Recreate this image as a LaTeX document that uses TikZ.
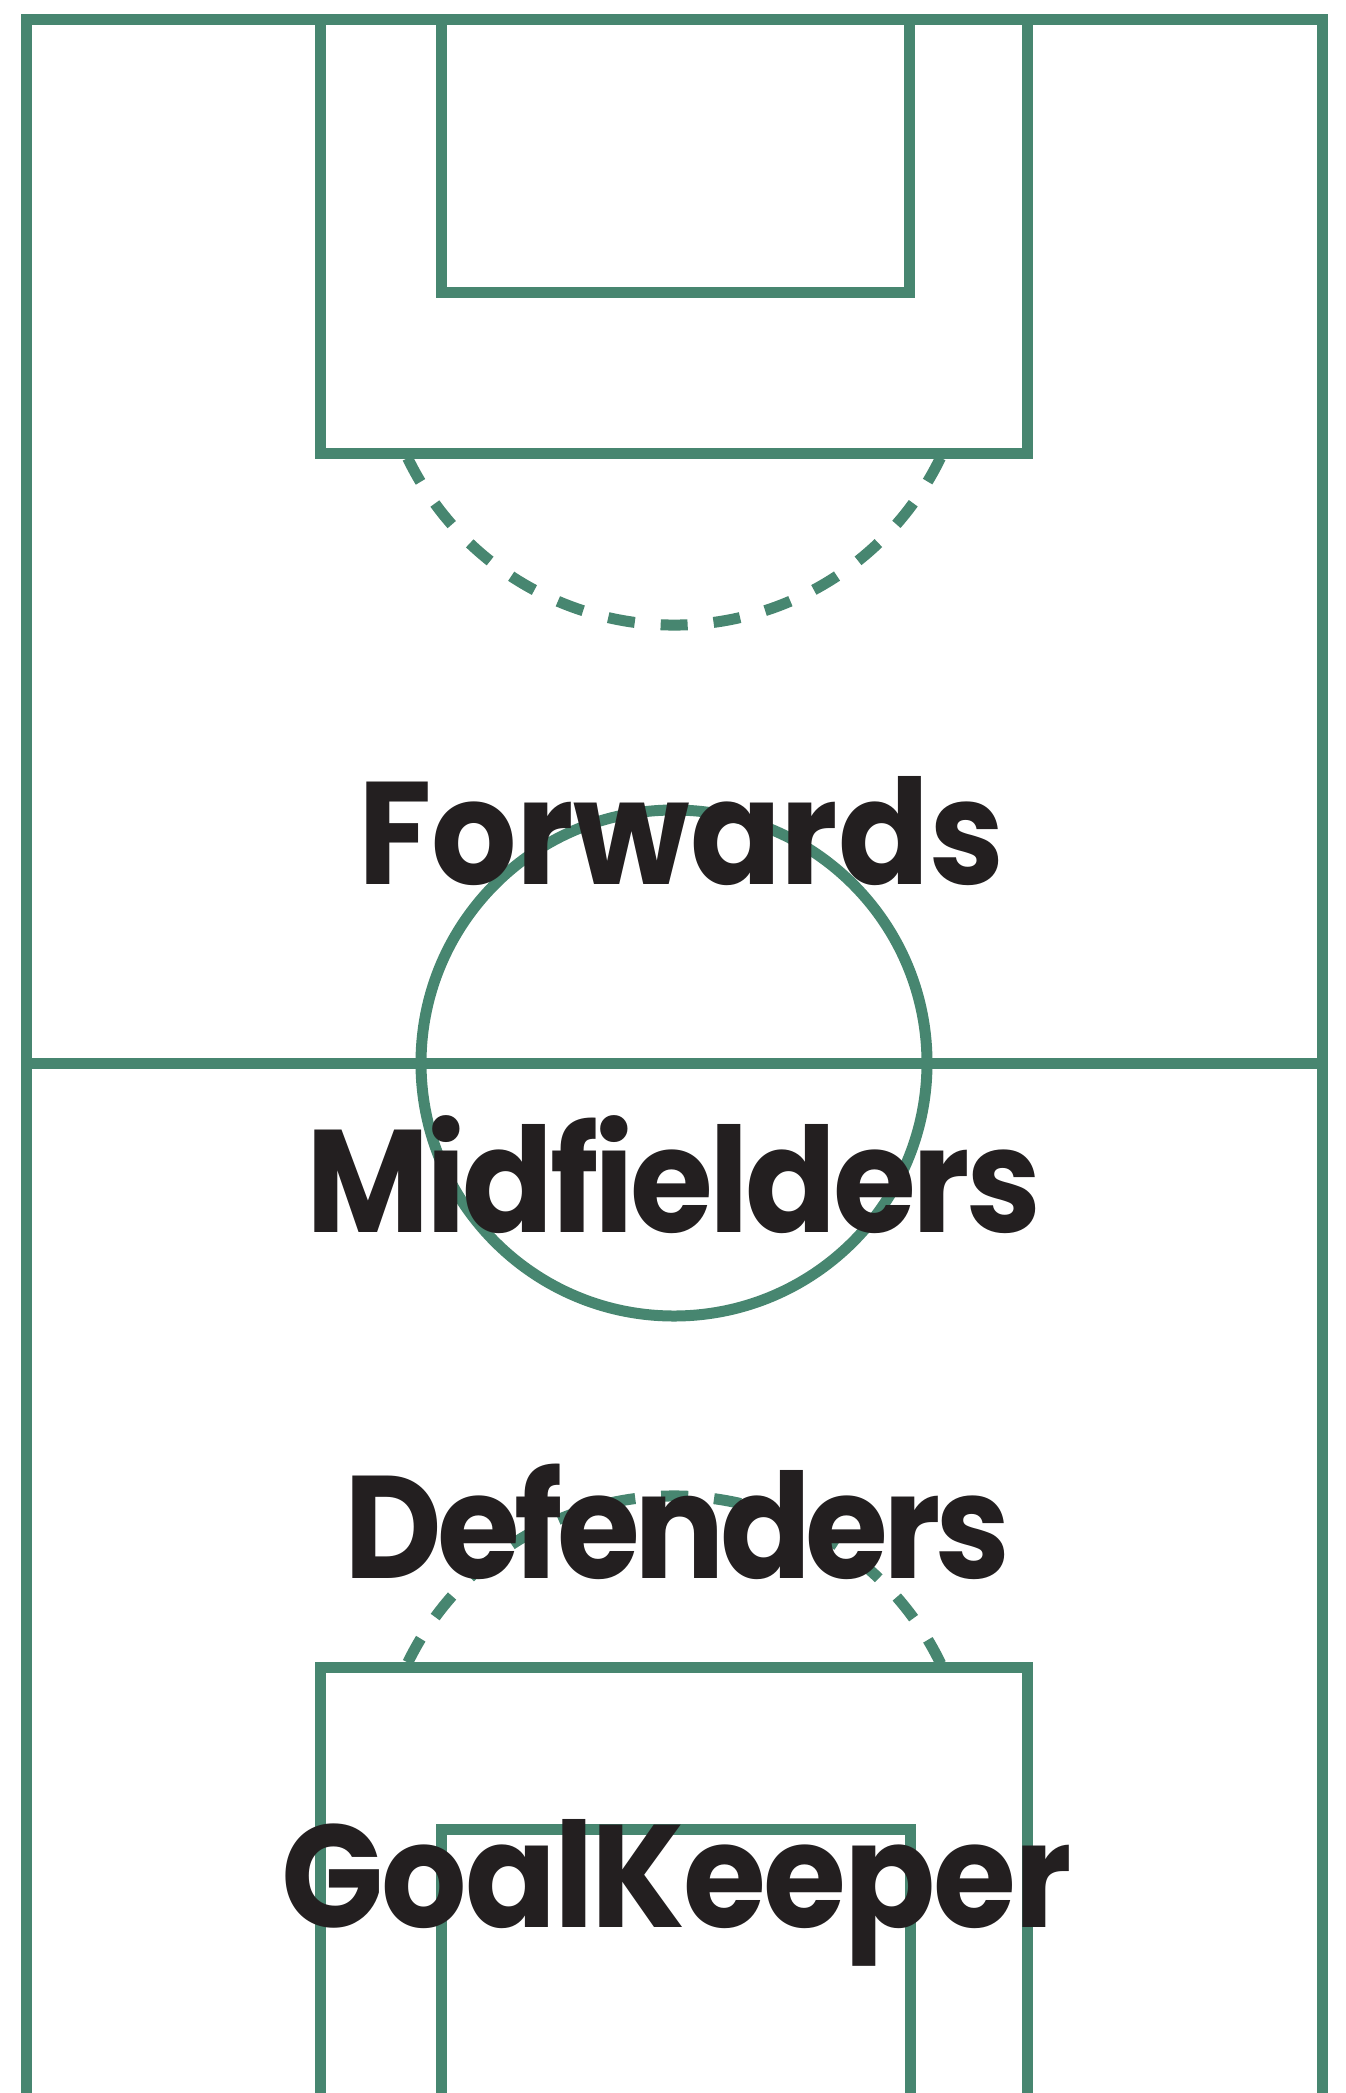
\documentclass[tikz,border=0pt]{standalone}
\usepackage{fontspec}
\usepackage{graphicx}
\newfontfamily\pop{Poppins}
\definecolor{pitch}{HTML}{478670}
\definecolor{ink}{HTML}{231F20}
\newcommand{\squeeze}[2]{\scalebox{0.92}[1]{\addfontfeatures{LetterSpace=#1}#2}}
\begin{document}
\begin{tikzpicture}[x=1pt,y=-1pt,
  pitchline/.style={draw=pitch,line width=11pt},
  arcdash/.style={pitchline,dash pattern=on 27pt off 26pt,dash phase=47.5pt},
  role/.style={text=ink,font=\pop\bfseries\fontsize{146}{146}\selectfont,anchor=base,inner sep=0pt}]
\useasboundingbox (0,0) rectangle (1345,2093);
\fill[white] (0,0) rectangle (1345,2093);
\clip (0,0) rectangle (1345,2093);
% pitch outline
\draw[pitchline] (26.5,2110) -- (26.5,19.5) -- (1322,19.5) -- (1322,2110);
% halfway line
\draw[pitchline] (26.5,1063) -- (1322,1063);
% centre circle
\coordinate (centre) at (674,1063);
\draw[pitchline] (centre) circle[radius=253];
% top penalty and goal boxes
\draw[pitchline] (320.5,19.5) -- (320.5,453.5) -- (1027.5,453.5) -- (1027.5,19.5);
\draw[pitchline] (441.5,19.5) -- (441.5,292.5) -- (909.5,292.5) -- (909.5,19.5);
% bottom penalty and goal boxes
\draw[pitchline] (320.5,2110) -- (320.5,1667) -- (1027.5,1667) -- (1027.5,2110);
\draw[pitchline] (441,2110) -- (441,1829) -- (910,1829) -- (910,2110);
% penalty arcs
\coordinate (topspot) at (674,329);
\coordinate (botspot) at (674,1792);
\draw[arcdash] ([shift={(155.2:296)}]topspot) arc[start angle=155.2,end angle=24.8,radius=296];
\draw[arcdash] ([shift={(204.9:296)}]botspot) arc[start angle=204.9,end angle=335.1,radius=296];
% labels
\node[role] (fwd) at (681,884) {\squeeze{-0.2}{Forwards}};
\node[role] (mid) at (674,1232) {\squeeze{-2.7}{Midfielders}};
\node[role] (def) at (677.5,1578) {\squeeze{-4}{Defenders}};
\node[role] (gk) at (676.5,1927.5) {\squeeze{-1.6}{GoalKeeper}};
\end{tikzpicture}
\end{document}
